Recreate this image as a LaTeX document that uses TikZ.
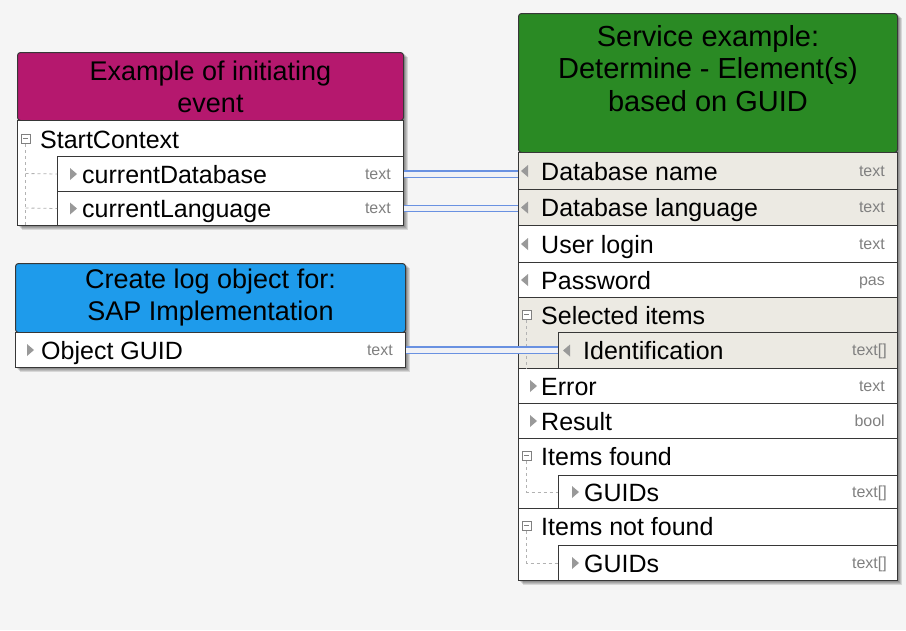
\documentclass[tikz,border=0pt]{standalone}
\usepackage{fontspec}
\setmainfont{Liberation Sans}
\definecolor{evcol}{RGB}{181,24,110}
\definecolor{fncol}{RGB}{30,155,235}
\definecolor{svcol}{RGB}{42,138,36}
\definecolor{framecol}{RGB}{55,55,55}
\definecolor{beige}{RGB}{236,234,227}
\definecolor{linkcol}{RGB}{105,145,225}
\definecolor{linkfill}{RGB}{240,241,245}
\definecolor{bgcol}{RGB}{245,245,245}
\begin{document}
\begin{tikzpicture}[x=1pt,y=-1pt,font=\fontsize{25}{30}\selectfont,
 cell/.style={draw=framecol,line width=1pt,fill=white,inner sep=0pt,anchor=north west,minimum height=35.5},
 hdr/.style={draw=framecol,line width=1pt,inner sep=0pt,anchor=north west,rounded corners=3},
 htext/.style={font=\fontsize{27}{32}\selectfont,align=center,inner sep=0pt},
 lbl/.style={anchor=base west,inner sep=0pt},
 kind/.style={anchor=base east,inner sep=0pt,text=gray,font=\fontsize{16}{18}\selectfont},
 link/.style={draw=linkcol,double=linkfill,double distance=5pt,line width=1.4pt},
 tree/.style={gray!60,dashed,line width=0.8pt},
 boxshade/.style={fill=black,opacity=0.12}]
 \fill[bgcol] (0,0) rectangle (906,630);
 % shadows
 \foreach \d in {2,3,4,5} {
  \fill[boxshade] (17+\d,52+\d) rectangle (403+\d,225+\d);
  \fill[boxshade] (15+\d,263+\d) rectangle (405+\d,367+\d);
  \fill[boxshade] (518+\d,13+\d) rectangle (897+\d,580+\d);
 }
 % initiating event
 \node[hdr,fill=evcol,minimum width=386,minimum height=68] (ev) at (17,52) {};
 \node[htext] at (ev.center) {Example of initiating\\event};
 \node[cell,minimum width=386,minimum height=105] (ctx) at (17,120) {};
 \node[cell,minimum width=346,minimum height=35] (curdb) at (57,156) {};
 \node[cell,minimum width=346,minimum height=34] (curlang) at (57,191) {};
 \draw[gray,line width=0.6pt,fill=white] (21,134) rectangle (30,143); \draw[gray,line width=0.6pt] (23,138.5)--(28,138.5);
 \draw[tree] (25.5,144)--(25.5,225); \draw[tree] (25.5,173.5)--(curdb.west); \draw[tree] (25.5,208)--(curlang.west);
 \node[lbl] (ctxlbl) at (40,148) {StartContext};
 \fill[gray!80] ([xshift=13,yshift=6]curdb.west) -- ++(7,6) -- ++(-7,6) -- cycle;
 \node[lbl] at ([xshift=25,yshift=-9]curdb.west) {currentDatabase};
 \node[kind] at ([xshift=-13,yshift=-5]curdb.east) {text};
 \fill[gray!80] ([xshift=13,yshift=6]curlang.west) -- ++(7,6) -- ++(-7,6) -- cycle;
 \node[lbl] at ([xshift=25,yshift=-9]curlang.west) {currentLanguage};
 \node[kind] at ([xshift=-13,yshift=-5]curlang.east) {text};
 % log object
 \node[hdr,fill=fncol,minimum width=390,minimum height=69] (fn) at (15,263) {};
 \node[htext] at (fn.center) {Create log object for:\\SAP Implementation};
 \node[cell,minimum width=390,minimum height=35] (obj) at (15,332) {};
 \fill[gray!80] ([xshift=12,yshift=6]obj.west) -- ++(7,6) -- ++(-7,6) -- cycle;
 \node[lbl] at ([xshift=26,yshift=-9]obj.west) {Object GUID};
 \node[kind] at ([xshift=-13,yshift=-5]obj.east) {text};
 % service
 \node[hdr,fill=svcol,minimum width=379,minimum height=139] (svc) at (518,13) {};
 \node[htext,anchor=north,font=\fontsize{29}{32.5}\selectfont] at ([yshift=-12]svc.north) {Service example:\\Determine - Element(s)\\based on GUID};
 \node[cell,fill=beige,minimum width=379,minimum height=37] (dbname) at (518,152) {};
 \node[cell,fill=beige,minimum width=379,minimum height=36] (dblang) at (518,189) {};
 \node[cell,minimum width=379,minimum height=37] (login) at (518,225) {};
 \node[cell,minimum width=379,minimum height=35] (pwd) at (518,262) {};
 \node[cell,fill=beige,minimum width=379,minimum height=71] (sel) at (518,297) {};
 \node[cell,fill=beige,minimum width=339,minimum height=36] (ident) at (558,332) {};
 \node[cell,minimum width=379,minimum height=35] (err) at (518,368) {};
 \node[cell,minimum width=379,minimum height=35] (res) at (518,403) {};
 \node[cell,minimum width=379,minimum height=70] (found) at (518,438) {};
 \node[cell,minimum width=339,minimum height=33] (guida) at (558,475) {};
 \node[cell,minimum width=379,minimum height=72] (notfound) at (518,508) {};
 \node[cell,minimum width=339,minimum height=35] (guidb) at (558,545) {};
 \foreach \r/\t/\k in {dbname/Database name/text,dblang/Database language/text,login/User login/text,pwd/Password/pas} {
  \fill[gray!80] ([xshift=10,yshift=6]\r.west) -- ++(-7,6) -- ++(7,6) -- cycle;
  \node[lbl] at ([xshift=23,yshift=-9]\r.west) {\t};
  \node[kind] at ([xshift=-13,yshift=-5]\r.east) {\k};
 }
 \foreach \r/\t/\k in {err/Error/text,res/Result/bool} {
  \fill[gray!80] ([xshift=12,yshift=6]\r.west) -- ++(7,6) -- ++(-7,6) -- cycle;
  \node[lbl] at ([xshift=23,yshift=-9]\r.west) {\t};
  \node[kind] at ([xshift=-13,yshift=-5]\r.east) {\k};
 }
 \foreach \r/\t in {sel/Selected items,found/Items found,notfound/Items not found} {
  \draw[gray,line width=0.6pt,fill=white] ([xshift=4,yshift=-13]\r.north west) rectangle ++(9,9);
  \draw[gray,line width=0.6pt] ([xshift=6,yshift=-17.5]\r.north west) -- ++(5,0);
  \node[lbl] at ([xshift=23,yshift=-27]\r.north west) {\t};
 }
 \draw[tree] ([xshift=8.5,yshift=-23]sel.north west) -- ([xshift=8.5]sel.south west);
 \draw[tree] ([xshift=8.5,yshift=-23]found.north west) |- (guida.west);
 \draw[tree] ([xshift=8.5,yshift=-23]notfound.north west) |- (guidb.west);
 \fill[gray!80] ([xshift=12,yshift=6]ident.west) -- ++(-7,6) -- ++(7,6) -- cycle;
 \node[lbl] at ([xshift=25,yshift=-9]ident.west) {Identification};
 \node[kind] at ([xshift=-11,yshift=-5]ident.east) {text[]};
 \foreach \r in {guida,guidb} {
  \fill[gray!80] ([xshift=14,yshift=6]\r.west) -- ++(7,6) -- ++(-7,6) -- cycle;
  \node[lbl] at ([xshift=26,yshift=-9]\r.west) {GUIDs};
  \node[kind] at ([xshift=-11,yshift=-5]\r.east) {text[]};
 }
 % assignments
 \draw[link] (curdb.east) -- (curdb.east -| dbname.west);
 \draw[link] (curlang.east) -- (curlang.east -| dblang.west);
 \draw[link] (obj.east) -- (obj.east -| ident.west);
\end{tikzpicture}
\end{document}
